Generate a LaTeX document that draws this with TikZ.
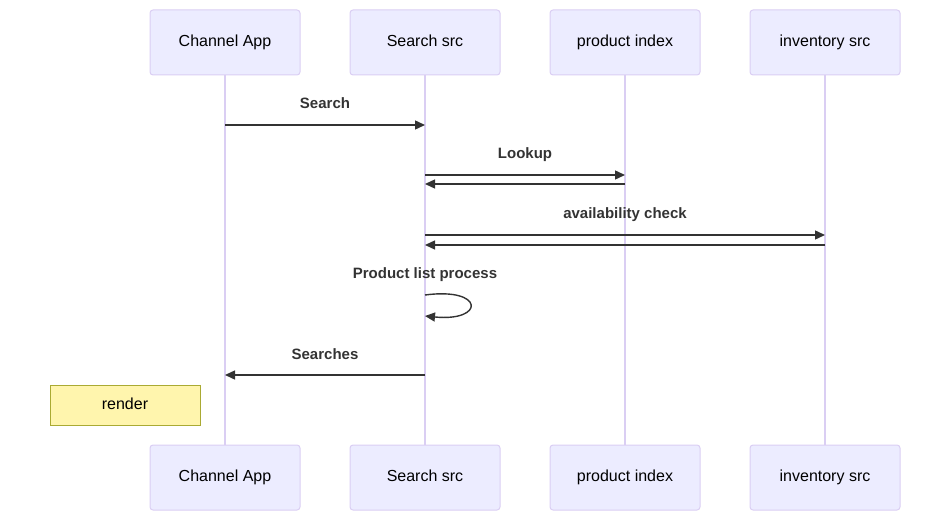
\documentclass[tikz,border=0pt]{standalone}
\usepackage{fontspec}
\setmainfont{Liberation Sans}
\usetikzlibrary{arrows.meta}
\definecolor{seqcolor0000}{RGB}{236,236,255}
\definecolor{seqcolor0001}{RGB}{218,206,243}
\definecolor{seqcolor0002}{RGB}{51,51,51}
\definecolor{seqcolor0003}{RGB}{255,245,173}
\definecolor{seqcolor0004}{RGB}{170,170,51}
\begin{document}
\begin{tikzpicture}[yscale=-1
                ,actor/.style={draw=seqcolor0001,fill=seqcolor0000,line width=1.0pt,rounded corners=3pt,minimum width=150pt,minimum height=65pt,inner sep=0pt,text height=11.5pt,text depth=3.5pt,font=\fontsize{16}{19}\selectfont,text=black}
                ,lifeline/.style={color=seqcolor0001,line width=1.3pt}
                ,msg/.style={color=seqcolor0002,line width=1.4pt,-{Triangle[length=10pt,width=9pt]}}
                ,msglabel/.style={color=seqcolor0002,font=\fontsize{15}{18}\selectfont\bfseries,inner sep=0pt,text height=11pt,text depth=3pt}
                ,notebox/.style={draw=seqcolor0004,fill=seqcolor0003,line width=1.0pt,minimum width=150pt,minimum height=40pt,inner sep=0pt,text height=11.5pt,text depth=3.5pt,font=\fontsize{16}{19}\selectfont,text=black}
            ]
            \useasboundingbox (0pt,0pt) rectangle (950pt,521pt);
            \node[actor] (chanTop) at (225pt,42.5pt) {Channel App};
            \node[actor] (srchTop) at (425pt,42.5pt) {Search src};
            \node[actor] (prodTop) at (625pt,42.5pt) {product index};
            \node[actor] (invTop) at (825pt,42.5pt) {inventory src};
            \node[actor] (chanBot) at (225pt,477.5pt) {Channel App};
            \node[actor] (srchBot) at (425pt,477.5pt) {Search src};
            \node[actor] (prodBot) at (625pt,477.5pt) {product index};
            \node[actor] (invBot) at (825pt,477.5pt) {inventory src};
            \draw[lifeline] (chanTop.south) -- (chanBot.north);
            \draw[lifeline] (srchTop.south) -- (srchBot.north);
            \draw[lifeline] (prodTop.south) -- (prodBot.north);
            \draw[lifeline] (invTop.south) -- (invBot.north);
            \draw[msg] (chanTop |- 0pt,125pt) -- (srchTop |- 0pt,125pt);
            \node[msglabel] (lblSearch) at (325pt,105pt) {Search};
            \draw[msg] (srchTop |- 0pt,175pt) -- (prodTop |- 0pt,175pt);
            \draw[msg] (prodTop |- 0pt,184pt) -- (srchTop |- 0pt,184pt);
            \node[msglabel] (lblLookup) at (525pt,155pt) {Lookup};
            \draw[msg] (srchTop |- 0pt,235pt) -- (invTop |- 0pt,235pt);
            \draw[msg] (invTop |- 0pt,245pt) -- (srchTop |- 0pt,245pt);
            \node[msglabel] (lblCheck) at (625pt,215pt) {availability check};
            \draw[msg] (srchTop |- 0pt,295pt) .. controls (485pt,287pt) and (485pt,322pt) .. (srchTop |- 0pt,316pt);
            \node[msglabel] (lblProcess) at (425pt,275pt) {Product list process};
            \draw[msg] (srchTop |- 0pt,375pt) -- (chanTop |- 0pt,375pt);
            \node[msglabel] (lblSearches) at (325pt,355pt) {Searches};
            \node[notebox] (render) at (125pt,405pt) {render};
        \end{tikzpicture}
\end{document}
